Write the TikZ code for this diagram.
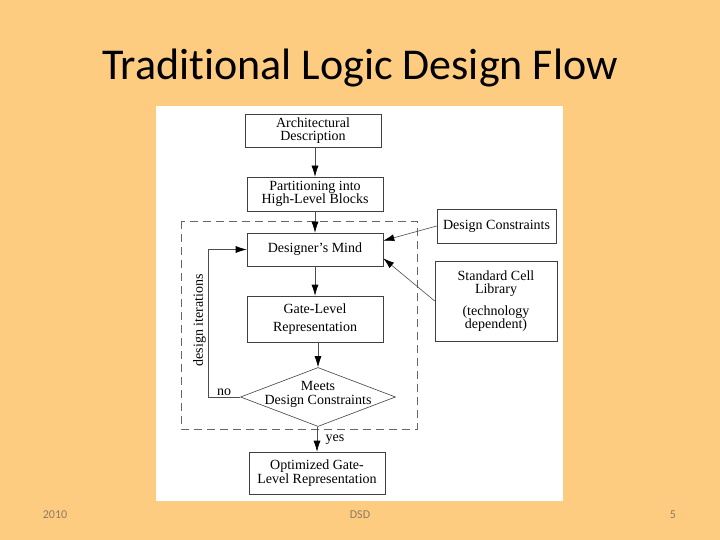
\documentclass[tikz,border=0pt]{standalone}
\usepackage{fontspec}
\setmainfont{Liberation Serif}
\newfontfamily\slidefont[Ligatures=NoCommon]{Carlito}
\usetikzlibrary{shapes.geometric,arrows.meta}
\definecolor{peach}{RGB}{254,204,128}
\definecolor{footgray}{RGB}{140,124,98}
\begin{document}
\begin{tikzpicture}[x=1pt,y=-1pt,>={Latex[length=11pt,width=7pt,color=black]},
    flow/.style={draw=black!70,line width=0.6pt},
    every node/.style={font=\fontsize{14}{14}\selectfont,align=center}]
    \fill[peach] (0,0) rectangle (720,540);
    \useasboundingbox (0,0) rectangle (720,540);
    \fill[white] (156,106) rectangle (563,501);
    \node[font=\slidefont\fontsize{44}{44}\selectfont] (title) at (360,68) {Traditional Logic Design Flow};
    \begin{scope}[every node/.style={font=\slidefont\fontsize{12}{12}\selectfont,text=footgray}]
        \node (year) at (55,515) {2010};
        \node (course) at (360,515) {DSD};
        \node (page) at (673,515) {5};
    \end{scope}
    \draw[black!60,line width=0.7pt,dash pattern=on 8pt off 5pt] (181,221) rectangle (417,429);
    \begin{scope}[every node/.style={draw=black!75,line width=0.6pt,align=center,
        font=\fontsize{14}{13.5}\selectfont}]
        \node[minimum width=136pt,minimum height=33pt] (arch) at (313,130.5) {Architectural\\Description};
        \node[minimum width=136pt,minimum height=34pt] (part) at (315,194) {Partitioning into\\High-Level Blocks};
        \node[minimum width=136pt,minimum height=33pt] (mind) at (315,249.5) {Designer's Mind};
        \node[minimum width=136pt,minimum height=46pt] (gate) at (315,319) {Gate-Level\\[4pt]Representation};
        \node[diamond,minimum width=155pt,minimum height=59pt,aspect=2.6,inner sep=0pt] (meets) at (318,397) {};
        \node[minimum width=136pt,minimum height=42pt] (opt) at (317,473) {Optimized Gate-\\[1pt]Level Representation};
        \node[minimum width=119pt,minimum height=34pt] (dc) at (496.5,226) {Design Constraints};
        \node[minimum width=122pt,minimum height=80pt] (lib) at (496,301) {Standard Cell\\Library\\[8pt](technology\\dependent)};
    \end{scope}
    \node (meetstext) at (318,394) {Meets\\Design Constraints};
    \draw[flow,->] (arch.south -| part) -- (part);
    \draw[flow,->] (part) -- (mind);
    \draw[flow,->] (mind) -- (gate);
    \draw[flow,->] (gate.south -| meets) -- (meets.north);
    \draw[flow,->] (meets.south -| opt) -- node[right,xshift=5pt]{yes} (opt);
    \draw[flow,->] (dc.west) -- ([yshift=-8pt]mind.north east);
    \draw[flow,->] (lib.west) -- ([yshift=8pt]mind.south east);
    \draw[flow,->] (meets.west) -- node[above,inner sep=1pt]{no} ++(-32,0)
        |- node[pos=0.26,rotate=90,anchor=south,inner sep=2pt]{design iterations} (mind.west);
\end{tikzpicture}
\end{document}
